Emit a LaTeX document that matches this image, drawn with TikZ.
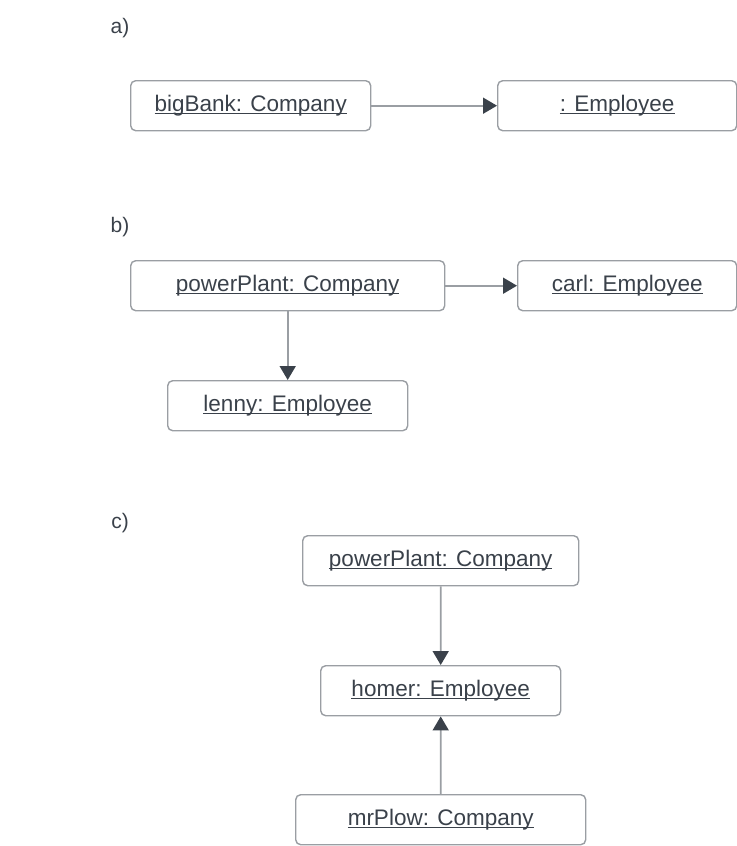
\documentclass[tikz,border=0pt]{standalone}
\usepackage{fontspec}
\setmainfont{Liberation Sans}
\usetikzlibrary{arrows.meta}
\definecolor{txt}{HTML}{3A414A}
\definecolor{edge}{HTML}{9A9EA3}
\newcommand\ulbox[1]{\setbox0\hbox{#1}\rlap{\rule[-2.6bp]{\wd0}{1.2bp}}\box0}
\tikzset{
  obj/.style={draw=edge, line width=1.4bp, rounded corners=5bp, fill=white, inner sep=0pt,
    minimum height=50bp, text=txt, font=\fontsize{22.5bp}{26bp}\selectfont, anchor=north west},
  lab/.style={text=txt, font=\fontsize{21bp}{24bp}\selectfont, inner sep=0pt},
  conn/.style={draw=edge, line width=1.7bp, -{Triangle[length=14bp,width=16bp,color=txt]}}
}
\begin{document}
\begin{tikzpicture}[x=1bp,y=-1bp]
\useasboundingbox (0,0) rectangle (737,846);
% a)
\node[lab] (la) at (120,28) {a)};
\node[obj, minimum width=240bp] (bigBank) at (130,80) {\ulbox{bigBank: Company}};
\node[obj, minimum width=239bp] (emp) at (497,80) {\ulbox{: Employee}};
\draw[conn] (bigBank) -- (emp);
% b)
\node[lab] (lb) at (120,227) {b)};
\node[obj, minimum width=314bp] (pp1) at (130,260) {\ulbox{powerPlant: Company}};
\node[obj, minimum width=219bp] (carl) at (517,260) {\ulbox{carl: Employee}};
\node[obj, minimum width=240bp] (lenny) at (167,380) {\ulbox{lenny: Employee}};
\draw[conn] (pp1) -- (carl);
\draw[conn] (pp1.south -| lenny.north) -- (lenny.north);
% c)
\node[lab] (lc) at (120,523) {c)};
\node[obj, minimum width=276bp] (pp2) at (302,535) {\ulbox{powerPlant: Company}};
\node[obj, minimum width=240bp] (homer) at (320,665) {\ulbox{homer: Employee}};
\node[obj, minimum width=290bp] (plow) at (295,794) {\ulbox{mrPlow: Company}};
\draw[conn] (pp2) -- (homer);
\draw[conn] (plow) -- (homer);
\end{tikzpicture}
\end{document}
